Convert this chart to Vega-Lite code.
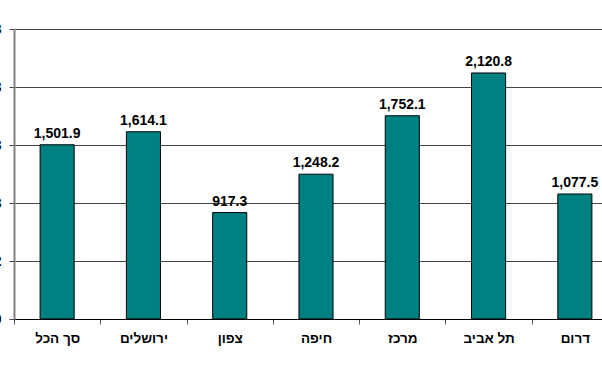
{
  "$schema": "https://vega.github.io/schema/vega-lite/v6.json",
  "autosize": "none",
  "width": 588,
  "height": 290,
  "padding": {"left": 14, "top": 29, "right": 0, "bottom": 48},
  "background": "white",
  "data": {"values": [
    {"region": "סך הכל", "value": 1501.9, "order": 1},
    {"region": "ירושלים", "value": 1614.1, "order": 2},
    {"region": "צפון", "value": 917.3, "order": 3},
    {"region": "חיפה", "value": 1248.2, "order": 4},
    {"region": "מרכז", "value": 1752.1, "order": 5},
    {"region": "תל אביב", "value": 2120.8, "order": 6},
    {"region": "דרום", "value": 1077.5, "order": 7}
  ]},
  "config": {
    "view": {"stroke": null},
    "font": "Liberation Sans"
  },
  "encoding": {
    "x": {
      "field": "region", "type": "nominal", "sort": {"field": "order"},
      "scale": {"paddingInner": 0, "paddingOuter": 0, "range": [0, 604]},
      "axis": {
        "title": null, "labelAngle": 0, "tickBand": "extent",
        "labelFont": "Liberation Sans", "labelFontSize": 13.5, "labelFontWeight": "bold",
        "labelColor": "black", "labelPadding": 7, "tickSize": 5, "tickColor": "#555",
        "domainColor": "black", "domainWidth": 1, "grid": false
      }
    },
    "y": {
      "field": "value", "type": "quantitative",
      "scale": {"domain": [0, 2500], "nice": false},
      "axis": {
        "title": null, "values": [0, 500, 1000, 1500, 2000, 2500], "format": ",",
        "labelFont": "Liberation Sans", "labelFontSize": 14, "labelFontWeight": "bold",
        "labelColor": "black", "tickSize": 5, "tickColor": "#444", "labelPadding": 8,
        "domainColor": "#808080", "domainWidth": 2,
        "grid": true, "gridColor": "#444", "gridWidth": 1, "gridOpacity": 1
      }
    }
  },
  "layer": [
    {
      "mark": {"type": "bar", "color": "#008080", "stroke": "black", "strokeWidth": 1, "width": {"band": 0.395}}
    },
    {
      "mark": {"type": "text", "baseline": "alphabetic", "dy": -7, "font": "Liberation Sans", "fontSize": 14, "fontWeight": "bold", "color": "black"},
      "encoding": {"text": {"field": "value", "type": "quantitative", "format": ",.1f"}}
    }
  ]
}
